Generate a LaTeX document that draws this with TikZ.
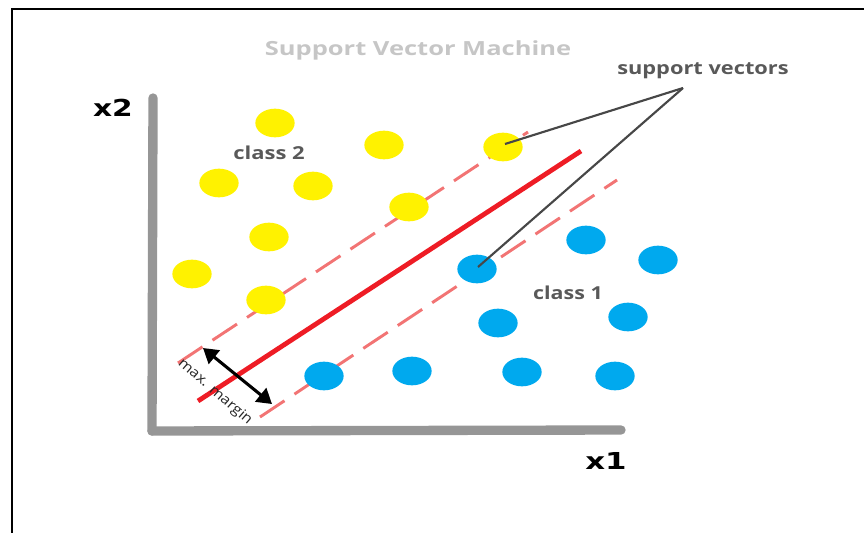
\documentclass[tikz,border=0pt]{standalone}
\usepackage{fontspec}
\setmainfont{Open Sans}
\newfontfamily\axisfont{DejaVu Sans}
\usetikzlibrary{shapes.geometric,arrows.meta}
\definecolor{svmyellow}{HTML}{FFF200}
\definecolor{svmblue}{HTML}{00A9EE}
\definecolor{svmred}{HTML}{EE1C25}
\definecolor{svmpink}{HTML}{F27474}
\definecolor{axisgray}{HTML}{969696}
\definecolor{labelgray}{HTML}{595959}
\definecolor{titlegray}{HTML}{C6C6C6}
\newcommand{\wide}[2]{\scalebox{#1}[1]{#2}}
\tikzset{
  dot/.style={ellipse, draw=none, inner sep=0pt, minimum width=29.5pt, minimum height=21.5pt},
  ydot/.style={dot, fill=svmyellow},
  bdot/.style={dot, fill=svmblue},
  axisline/.style={draw=axisgray, line width=7pt, line cap=round},
  hyper/.style={draw=svmred, line width=3.6pt},
  marginline/.style={draw=svmpink, line width=2.2pt, dash pattern=on 22pt off 9pt},
  pointer/.style={draw=black!72, line width=1.6pt},
  margarrow/.style={draw=black, line width=2.3pt, {Triangle[length=11pt,width=13pt]}-{Triangle[length=11pt,width=13pt]}},
  lbl/.style={font=\bfseries\fontsize{13.4}{15}\selectfont, text=labelgray, inner sep=0pt},
  axlbl/.style={font=\axisfont\bfseries\fontsize{17.5}{19}\selectfont, text=black, inner sep=0pt},
}
\begin{document}
\begin{tikzpicture}[x=0.75pt,y=-0.75pt]
\useasboundingbox (0,0) rectangle (864,532);
% frame
\draw[black, line width=1.6pt] (12,540) -- (12,9) -- (870,9);

% title
\node[font=\bfseries\fontsize{14.6}{17}\selectfont, text=titlegray, inner sep=0pt] (title) at (418,50) {\wide{1.31}{Support Vector Machine}};

% axes
\coordinate (o) at (152,431);
\coordinate (ytop) at (153,98);
\coordinate (xend) at (621,430);
\draw[axisline] (o) -- (ytop);
\draw[axisline] (o) -- (xend);
\node[axlbl] (x2) at (113,108) {\wide{1.27}{x2}};
\node[axlbl] (x1) at (606,461) {\wide{1.32}{x1}};

% margins and separating line
\coordinate (u1) at (178,363);
\coordinate (u2) at (528,132);
\coordinate (l1) at (260,417);
\coordinate (l2) at (617,180);
\coordinate (h1) at (198,401);
\coordinate (h2) at (581,151);
\draw[marginline] (u1) -- (u2);
\draw[marginline] (l1) -- (l2);
\draw[hyper] (h1) -- (h2);

% class 2 points
\node[ydot] (y1) at (275,123) {};
\node[ydot] (y2) at (384,145) {};
\node[ydot] (y3) at (219,183) {};
\node[ydot] (y4) at (313,186) {};
\node[ydot] (y5) at (409,207) {};
\node[ydot] (y6) at (269,237) {};
\node[ydot] (y7) at (192,274) {};
\node[ydot] (y8) at (266,300) {};
\node[ydot] (ysv) at (503,147) {};

% class 1 points
\node[bdot] (bsv) at (477,269) {};
\node[bdot] (b2) at (586,240) {};
\node[bdot] (b3) at (658,260) {};
\node[bdot] (b4) at (498,323) {};
\node[bdot] (b5) at (628,317) {};
\node[bdot] (b6) at (324,376) {};
\node[bdot] (b7) at (412,371) {};
\node[bdot] (b8) at (522,372) {};
\node[bdot] (b9) at (615,376) {};

% labels
\node[lbl] (c2) at (269,153) {\wide{1.23}{class 2}};
\node[lbl] (c1) at (568,293) {\wide{1.2}{class 1}};
\node[lbl] (sv) at (703,71) {\wide{1.22}{support vectors}};

% support vector pointers
\coordinate (apex) at (683,88);
\draw[pointer] (apex) -- ([shift={(2,-3)}]ysv.center);
\draw[pointer] (apex) -- ([shift={(1,-2)}]bsv.center);

% maximum margin
\coordinate (ma) at (203,348);
\coordinate (mb) at (272,404);
\draw[margarrow] (ma) -- (mb);
\node[font=\fontsize{10.5}{12}\selectfont, text=black!85, inner sep=0pt, rotate=-41] (mm) at (215,392) {\wide{1.12}{max. margin}};
\end{tikzpicture}
\end{document}
